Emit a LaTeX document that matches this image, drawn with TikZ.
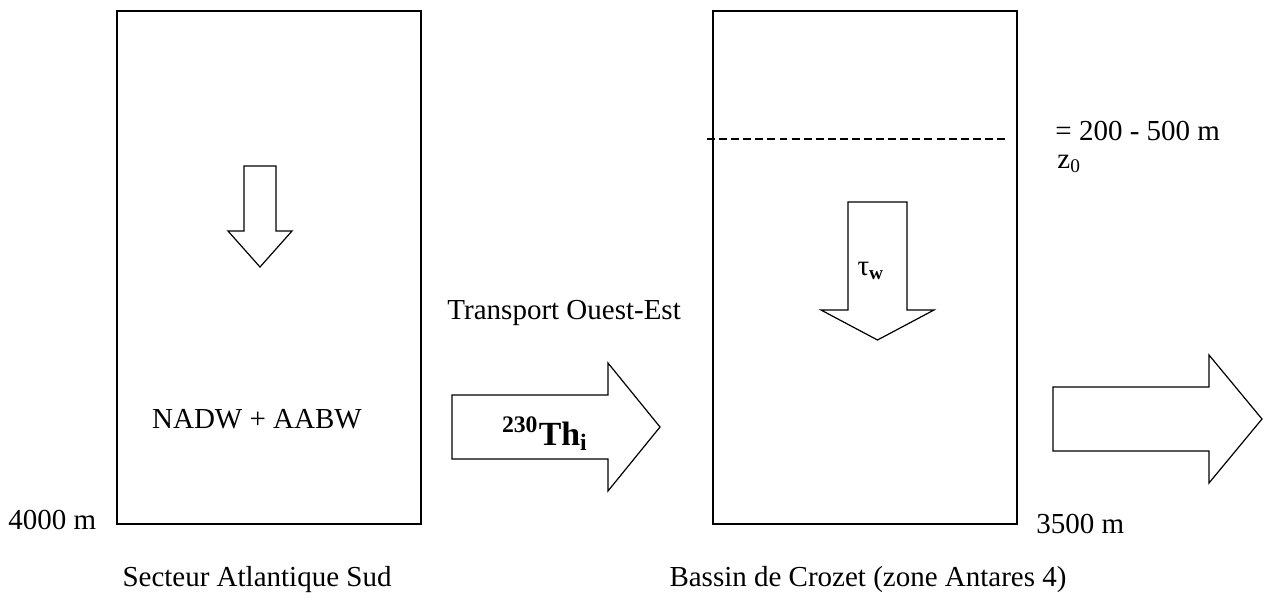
\documentclass[tikz,border=0pt]{standalone}
\usepackage{fontspec}
\setmainfont{Liberation Serif}
\usetikzlibrary{positioning}

\tikzset{
  basin/.style={draw, line width=0.85pt, inner sep=0pt, anchor=north west,
    minimum width=125.8pt, minimum height=212.3pt},
  flow/.style={draw, line width=0.5pt, line join=miter, fill=white},
  label12/.style={font=\fontsize{12}{14.4}\selectfont, inner sep=0pt},
  thlabel/.style={font=\fontsize{14}{16.8}\selectfont\bfseries, inner sep=0pt}
}

\begin{document}
\begin{tikzpicture}[x=0.4138pt, y=-0.4138pt]
    \useasboundingbox (0,0) rectangle (1265,601);

    % Basins
    \node[basin] (atlantic) at (116,10) {};
    \node[basin] (crozet) at (712,10) {};

    % Depth of the mixed layer z0
    \draw[line width=0.55pt, dash pattern=on 3.3pt off 1.7pt] (707,139) -- (1008,139);
    \node[label12, anchor=base west] (zrange) at (1055,140) {= 200 - 500 m};
    \node[label12, anchor=base west] (zzero) at (1057,168) {z\textsubscript{0}};

    % Vertical fluxes
    \draw[flow] (244,166) -- (276,166) -- (276,231) -- (292,231) -- (260,267)
        -- (228,231) -- (244,231) -- cycle;
    \draw[flow] (848,202) -- (907,202) -- (907,310) -- (934,310) -- (877.5,340)
        -- (821,310) -- (848,310) -- cycle;
    \node[label12, anchor=base] (tau) at (871,275) {τ\textsubscript{\textbf{w}}};

    % West-east transport
    \draw[flow] (452,395) -- (608,395) -- (608,363) -- (660,427) -- (608,491)
        -- (608,459) -- (452,459) -- cycle;
    \node[thlabel, anchor=base] (thorium) at (545,445) {\textsuperscript{230}Th\textsubscript{i}};
    \draw[flow] (1053,387) -- (1209,387) -- (1209,355) -- (1262,419) -- (1209,483)
        -- (1209,451) -- (1053,451) -- cycle;
    \node[label12, anchor=base west] (transport) at (447,319) {Transport Ouest-Est};

    % Water masses and depths
    \node[label12, anchor=base] (masses) at (257,428) {NADW + AABW};
    \node[label12, anchor=base west] (depthatl) at (8,529) {4000 m};
    \node[label12, anchor=base west] (depthcro) at (1036,533) {3500 m};

    % Basin names
    \node[label12, anchor=base] (nameatl) at (257,586) {Secteur Atlantique Sud};
    \node[label12, anchor=base] (namecro) at (868,586) {Bassin de Crozet (zone Antares 4)};
\end{tikzpicture}
\end{document}
